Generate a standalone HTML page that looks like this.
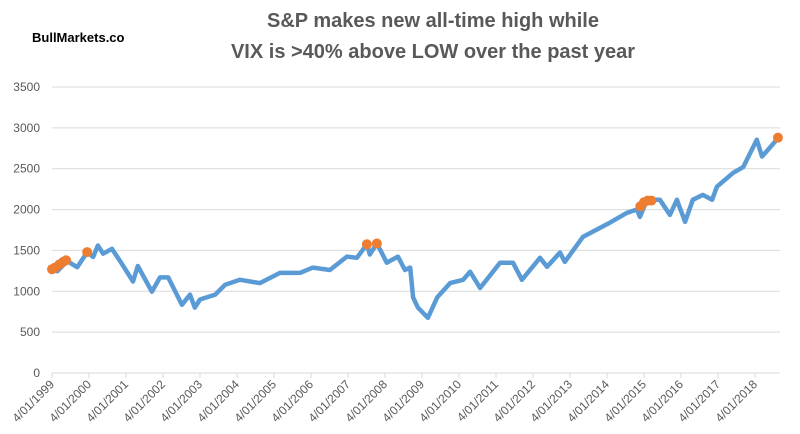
<!DOCTYPE html>
<html><head><meta charset="utf-8"><style>
body{margin:0;background:#fff;}
svg{display:block;font-family:"Liberation Sans",sans-serif;}
</style></head><body>
<svg id="chart" width="800" height="434">
<text x="433" y="27" text-anchor="middle" font-size="20" font-weight="bold" fill="#595959">S&amp;P makes new all-time high while</text>
<text x="433" y="58" text-anchor="middle" font-size="20" font-weight="bold" fill="#595959">VIX is &gt;40% above LOW over the past year</text>
<text x="32" y="42" font-size="13" font-weight="bold" fill="#000">BullMarkets.co</text>
<g id="grid"></g><g id="axes"></g><g id="series"></g><g id="points"></g>
</svg>
<script>
const yTicks=[0,500,1000,1500,2000,2500,3000,3500];
const xTickLabels=["4/01/1999","4/01/2000","4/01/2001","4/01/2002","4/01/2003","4/01/2004","4/01/2005","4/01/2006","4/01/2007","4/01/2008","4/01/2009","4/01/2010","4/01/2011","4/01/2012","4/01/2013","4/01/2014","4/01/2015","4/01/2016","4/01/2017","4/01/2018"];
const spxT=[1999.0,1999.14,1999.41,1999.68,1999.95,2000.11,2000.24,2000.38,2000.62,2000.84,2001.19,2001.32,2001.70,2001.92,2002.14,2002.51,2002.73,2002.86,2003.0,2003.41,2003.68,2004.08,2004.62,2005.16,2005.70,2006.05,2006.51,2006.97,2007.24,2007.51,2007.59,2007.78,2008.05,2008.35,2008.54,2008.68,2008.76,2008.89,2009.16,2009.41,2009.76,2010.11,2010.30,2010.57,2011.11,2011.46,2011.70,2012.19,2012.38,2012.73,2012.86,2013.35,2014.08,2014.54,2014.81,2014.89,2015.08,2015.43,2015.70,2015.89,2016.11,2016.32,2016.59,2016.84,2016.97,2017.41,2017.68,2018.05,2018.19,2018.35,2018.54,2018.62];
const spxV=[1270,1245,1370,1295,1480,1420,1560,1460,1520,1370,1120,1310,995,1170,1170,835,960,800,900,960,1080,1140,1100,1225,1225,1290,1260,1425,1410,1575,1450,1585,1350,1425,1260,1290,925,800,675,925,1100,1140,1240,1040,1350,1350,1140,1410,1300,1475,1360,1665,1840,1960,2000,1910,2120,2120,1935,2120,1850,2120,2180,2120,2280,2450,2520,2855,2650,2730,2830,2880];
const hitT=[1999.0,1999.08,1999.2,1999.3,1999.38,1999.95,2007.51,2007.78,2014.9,2015.0,2015.1,2015.2,2018.62];
const hitV=[1270,1290,1330,1360,1380,1480,1575,1585,2040,2090,2110,2110,2880];

const L=52,R=780,Y0=373,Y1=87,NS="http://www.w3.org/2000/svg";
const xs=t=>L+(t-1999)*37;
const ys=v=>Y0-(v/3500)*(Y0-Y1);
function mk(tag,attrs,parent){const e=document.createElementNS(NS,tag);for(const k in attrs)e.setAttribute(k,attrs[k]);document.getElementById(parent).appendChild(e);return e;}
yTicks.forEach(v=>{
  const g=mk('line',{x1:L,x2:R,y1:ys(v),y2:ys(v),stroke:'#d9d9d9','stroke-width':1},'grid');
  
  
  const t=mk('text',{x:40,y:ys(v)+4,'text-anchor':'end','font-size':12,fill:'#595959'},'axes');
  t.textContent=v;
  
  
});
xTickLabels.forEach((lab,i)=>{
  const x=xs(1999+i);
  const tk=mk('line',{x1:x,x2:x,y1:Y0,y2:Y0+5,stroke:'#d9d9d9'},'axes');
  
  
  const t=mk('text',{x:x+3,y:Y0+12,'text-anchor':'end','font-size':12,fill:'#595959',transform:`rotate(-45 ${x+3} ${Y0+12})`},'axes');
  t.textContent=lab;
  
  
});
const d=spxT.map((t,i)=>(i?'L':'M')+xs(t).toFixed(1)+' '+ys(spxV[i]).toFixed(1)).join(' ');
const p=mk('path',{d:d,fill:'none',stroke:'#5B9BD5','stroke-width':4.5,'stroke-linejoin':'round','stroke-linecap':'round'},'series');


hitT.forEach((t,i)=>{
  const c=mk('circle',{cx:xs(t),cy:ys(hitV[i]),r:5,fill:'#ED7D31'},'points');
  
  
});
</script>
</body></html>
